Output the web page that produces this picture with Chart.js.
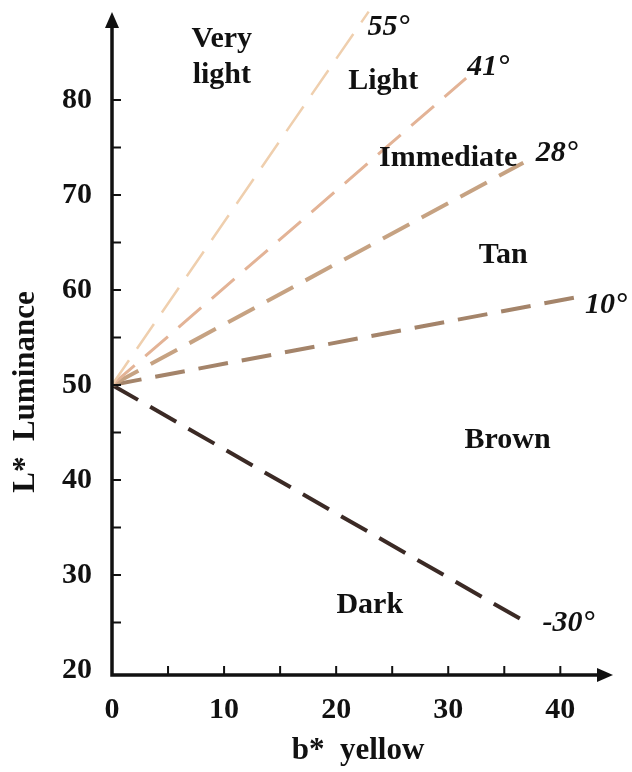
<!DOCTYPE html>
<html>
<head>
<meta charset="utf-8">
<script src="https://cdn.jsdelivr.net/npm/chart.js@4.4.1/dist/chart.umd.min.js"></script>
<style>
  html, body { margin: 0; padding: 0; background: #fff; }
  canvas { display: block; }
</style>
</head>
<body>
<canvas id="lum" width="632" height="772"></canvas>
<script>
// Hue-angle boundaries, all drawn from the common origin (b* = 0, L* = 50)
var originX = 0;
var originY = 50;
var angleNames = ['55°', '41°', '28°', '10°', '-30°'];
var lineEndX = [22.9, 31.6, 36.7, 41.3, 36.4];
var lineEndY = [89.3, 82.3, 73.4, 59.2, 25.4];
var lineColors = ['#efcfae', '#e3b396', '#c6a282', '#a4846a', '#3b2a25'];
var lineWidths = [2.5, 3, 4, 4, 4];

// Angle captions sit just past each line end
var angleLabelX = [22.8, 31.7, 37.8, 42.2, 38.4];
var angleLabelY = [87.7, 83.4, 74.4, 58.4, 24.9];

// Colour class names inside each sector
var regionNames = ['Very', 'light', 'Light', 'Immediate', 'Tan', 'Brown', 'Dark'];
var regionX = [9.8, 9.8, 24.2, 30.0, 34.9, 35.3, 23.0];
var regionY = [86.4, 82.6, 82.0, 73.9, 63.7, 44.2, 26.8];

// Axis ticks
var xLabels = [0, 10, 20, 30, 40];
var yLabels = [20, 30, 40, 50, 60, 70, 80];
var xMarks = [5, 10, 15, 20, 25, 30, 35, 40];
var yMarks = [25, 30, 35, 40, 45, 50, 55, 60, 65, 70, 75, 80];

var SERIF = "'Liberation Serif', 'Times New Roman', serif";

var datasets = [];
for (var i = 0; i < angleNames.length; i++) {
    datasets.push({
        label: angleNames[i],
        data: [{x: originX, y: originY}, {x: lineEndX[i], y: lineEndY[i]}],
        showLine: true,
        borderColor: lineColors[i],
        borderWidth: lineWidths[i],
        borderDash: [30, 14],
        borderCapStyle: 'butt',
        pointRadius: 0,
        clip: false
    });
}

// Axes with arrowheads, inward tick marks, titles and the in-plot captions
var decorations = {
    id: 'decorations',
    afterDatasetsDraw: function(chart) {
        var ctx = chart.ctx;
        var xs = chart.scales.x;
        var ys = chart.scales.y;
        var area = chart.chartArea;
        var ox = xs.getPixelForValue(0);
        var oy = area.bottom;

        ctx.save();
        ctx.strokeStyle = '#111';
        ctx.fillStyle = '#111';
        ctx.lineWidth = 3.5;
        ctx.lineCap = 'butt';
        ctx.beginPath();
        ctx.moveTo(ox, area.top + 10);
        ctx.lineTo(ox, oy);
        ctx.lineTo(area.right - 10, oy);
        ctx.stroke();

        // arrowheads
        ctx.beginPath();
        ctx.moveTo(ox, area.top);
        ctx.lineTo(ox - 7, area.top + 16);
        ctx.lineTo(ox + 7, area.top + 16);
        ctx.closePath();
        ctx.fill();
        ctx.beginPath();
        ctx.moveTo(area.right, oy);
        ctx.lineTo(area.right - 16, oy - 7);
        ctx.lineTo(area.right - 16, oy + 7);
        ctx.closePath();
        ctx.fill();

        // tick marks pointing into the plot
        ctx.lineWidth = 2;
        ctx.beginPath();
        yMarks.forEach(function(v) {
            var py = ys.getPixelForValue(v);
            ctx.moveTo(ox, py);
            ctx.lineTo(ox + 9, py);
        });
        xMarks.forEach(function(v) {
            var px = xs.getPixelForValue(v);
            ctx.moveTo(px, oy);
            ctx.lineTo(px, oy - 9);
        });
        ctx.stroke();

        // region names
        ctx.textAlign = 'center';
        ctx.textBaseline = 'middle';
        ctx.font = 'bold 30px ' + SERIF;
        for (var i = 0; i < regionNames.length; i++) {
            ctx.fillText(regionNames[i], xs.getPixelForValue(regionX[i]), ys.getPixelForValue(regionY[i]));
        }

        // angle captions
        ctx.textAlign = 'left';
        ctx.font = 'italic bold 30px ' + SERIF;
        for (var j = 0; j < angleNames.length; j++) {
            ctx.fillText(angleNames[j], xs.getPixelForValue(angleLabelX[j]), ys.getPixelForValue(angleLabelY[j]));
        }

        // axis titles
        ctx.font = 'bold 31px ' + SERIF;
        ctx.textAlign = 'center';
        ctx.fillText('b*  yellow', 358, 751);
        ctx.translate(26, 392);
        ctx.rotate(-Math.PI / 2);
        ctx.fillText('L*  Luminance', 0, 0);
        ctx.restore();
    }
};

var tickFont = {family: SERIF, size: 30, weight: 'bold'};

new Chart(document.getElementById('lum'), {
    type: 'scatter',
    data: {datasets: datasets},
    options: {
        responsive: false,
        animation: false,
        events: [],
        layout: {padding: {top: 12, right: 19, left: 0, bottom: 0}},
        plugins: {legend: {display: false}, tooltip: {enabled: false}},
        scales: {
            x: {
                type: 'linear',
                min: 0,
                max: 44.7,
                grid: {display: false, drawTicks: false},
                border: {display: false},
                ticks: {font: tickFont, color: '#111', padding: 17, maxRotation: 0},
                afterBuildTicks: function(s) { s.ticks = xLabels.map(function(v) { return {value: v}; }); },
                afterFit: function(s) {
                    s.height = 97;
                    s.paddingLeft = 0;
                    s.paddingRight = 0;
                }
            },
            y: {
                type: 'linear',
                min: 19.47,
                max: 89.26,
                grid: {display: false, drawTicks: false},
                border: {display: false},
                ticks: {font: tickFont, color: '#111', padding: 20},
                afterBuildTicks: function(s) { s.ticks = yLabels.map(function(v) { return {value: v}; }); },
                afterFit: function(s) {
                    s.width = 112;
                    s.paddingTop = 0;
                    s.paddingBottom = 0;
                }
            }
        }
    },
    plugins: [decorations]
});
</script>
</body>
</html>
